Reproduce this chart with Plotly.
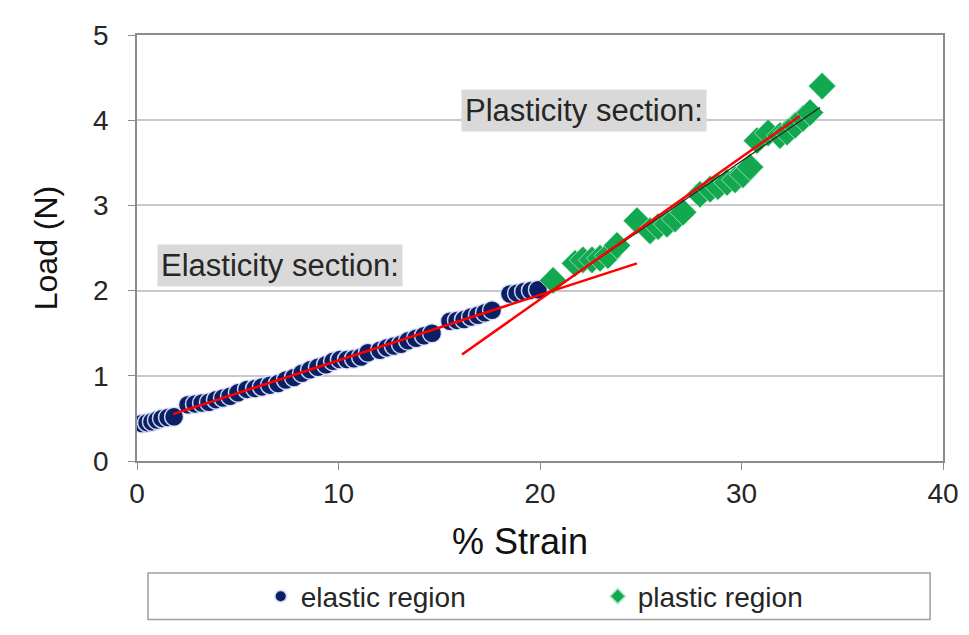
import plotly.graph_objects as go

# ---- data ----
elastic_x = [0.25, 0.5, 0.74, 0.99, 1.24, 1.54, 1.84, 2.53, 2.88, 3.23, 3.57, 3.92, 4.27, 4.62,
             5.01, 5.46, 5.86, 6.2, 6.6, 7.0, 7.39, 7.79, 8.19, 8.59, 8.98, 9.38, 9.73, 10.07,
             10.42, 10.77, 11.12, 11.46, 12.06, 12.41, 12.75, 13.1, 13.45, 13.85, 14.24, 14.64,
             15.53, 15.88, 16.23, 16.58, 16.92, 17.27, 17.62, 18.51, 18.86, 19.21, 19.55, 19.9]
elastic_y = [0.44, 0.45, 0.46, 0.48, 0.50, 0.51, 0.52, 0.66, 0.67, 0.68, 0.69, 0.72, 0.74, 0.76,
             0.80, 0.84, 0.85, 0.87, 0.89, 0.91, 0.95, 0.98, 1.03, 1.07, 1.10, 1.13, 1.17, 1.19,
             1.19, 1.20, 1.22, 1.27, 1.30, 1.33, 1.35, 1.37, 1.41, 1.44, 1.47, 1.50,
             1.64, 1.65, 1.66, 1.69, 1.71, 1.74, 1.77, 1.96, 1.97, 1.99, 2.00, 2.01]

plastic_x = [20.65, 21.74, 22.13, 22.58, 22.98, 23.37, 23.82, 24.81, 25.46, 25.86, 26.3, 26.7,
             27.1, 27.94, 28.44, 28.83, 29.28, 29.68, 30.07, 30.42, 30.77, 31.32, 31.91, 32.26,
             32.66, 33.05, 33.4, 34.0]
plastic_y = [2.12, 2.32, 2.36, 2.36, 2.38, 2.41, 2.53, 2.82, 2.70, 2.75, 2.78, 2.84,
             2.92, 3.13, 3.19, 3.22, 3.27, 3.30, 3.36, 3.45, 3.76, 3.85, 3.82, 3.86,
             3.94, 4.02, 4.09, 4.40]

# fitted lines (end points)
elastic_fit_x = [1.79, 24.81]
elastic_fit_y = [0.55, 2.32]
plastic_fit_x = [16.13, 32.9]
plastic_fit_y = [1.25, 4.05]
trend_x = [20.6, 33.9]
trend_y = [2.0, 4.15]

x_ticks = [0, 10, 20, 30, 40]
y_ticks = [0, 1, 2, 3, 4, 5]

FONT = "Liberation Sans, Arial, sans-serif"

fig = go.Figure()

fig.add_trace(go.Scatter(x=elastic_x, y=elastic_y, mode="markers", name="elastic region",
                         marker=dict(symbol="circle", size=19, color="#0b1f66",
                                     line=dict(color="rgba(225,232,250,0.9)", width=1.5))))
fig.add_trace(go.Scatter(x=plastic_x, y=plastic_y, mode="markers", name="plastic region",
                         marker=dict(symbol="diamond", size=21, color="#12a850",
                                     line=dict(color="rgba(200,240,215,0.7)", width=1))))
fig.add_trace(go.Scatter(x=trend_x, y=trend_y, mode="lines", showlegend=False,
                         line=dict(color="#222222", width=1.2)))
fig.add_trace(go.Scatter(x=elastic_fit_x, y=elastic_fit_y, mode="lines", showlegend=False,
                         line=dict(color="#ff0000", width=2.5)))
fig.add_trace(go.Scatter(x=plastic_fit_x, y=plastic_fit_y, mode="lines", showlegend=False,
                         line=dict(color="#ff0000", width=2.5)))

fig.add_annotation(x=7.1, y=2.29, xref="x", yref="y", text="Elasticity section:",
                   showarrow=False, bgcolor="#d9d9d9", borderpad=3,
                   font=dict(family=FONT, size=31, color="#262626"))
fig.add_annotation(x=22.2, y=4.11, xref="x", yref="y", text="Plasticity section:",
                   showarrow=False, bgcolor="#d9d9d9", borderpad=3,
                   font=dict(family=FONT, size=31, color="#262626"))

# x-axis title (placed slightly left of centre, as in the reference)
fig.add_annotation(x=0.475, y=-0.189, xref="paper", yref="paper", text="% Strain",
                   showarrow=False, xanchor="center", yanchor="middle",
                   font=dict(family=FONT, size=36, color="#111111"))

# legend border
fig.add_shape(type="rect", xref="paper", yref="paper", x0=0.0136, x1=0.984, y0=-0.372, y1=-0.263,
              line=dict(color="#a0a0a0", width=1.5), fillcolor="rgba(0,0,0,0)")

fig.update_layout(
    width=969, height=635,
    margin=dict(l=129, r=34, t=20, b=182),
    paper_bgcolor="white", plot_bgcolor="white",
    font=dict(family=FONT, color="#262626"),
    showlegend=True,
    legend=dict(orientation="h", x=0.1535, xanchor="left", y=-0.318, yanchor="middle",
                font=dict(family=FONT, size=28, color="#262626"),
                entrywidth=292, entrywidthmode="pixels", itemsizing="constant",
                bgcolor="rgba(0,0,0,0)"),
    xaxis=dict(range=[0, 40], tickvals=x_ticks, showgrid=False, zeroline=False,
               showline=True, linecolor="#8c8c8c", linewidth=1.5, mirror=True,
               ticks="outside", ticklen=7, tickcolor="#8c8c8c",
               tickfont=dict(size=28, family=FONT, color="#262626")),
    yaxis=dict(range=[0, 5], tickvals=y_ticks, showgrid=True, gridcolor="#c8c8c8", gridwidth=1.5,
               zeroline=False, showline=True, linecolor="#8c8c8c", linewidth=1.5, mirror=True,
               ticks="outside", ticklen=7, tickcolor="#8c8c8c", ticklabelstandoff=14,
               tickfont=dict(size=28, family=FONT, color="#262626"),
               title=dict(text="Load (N)", font=dict(size=32, family=FONT, color="#111111"), standoff=26)),
)

fig.write_html("out.html")
